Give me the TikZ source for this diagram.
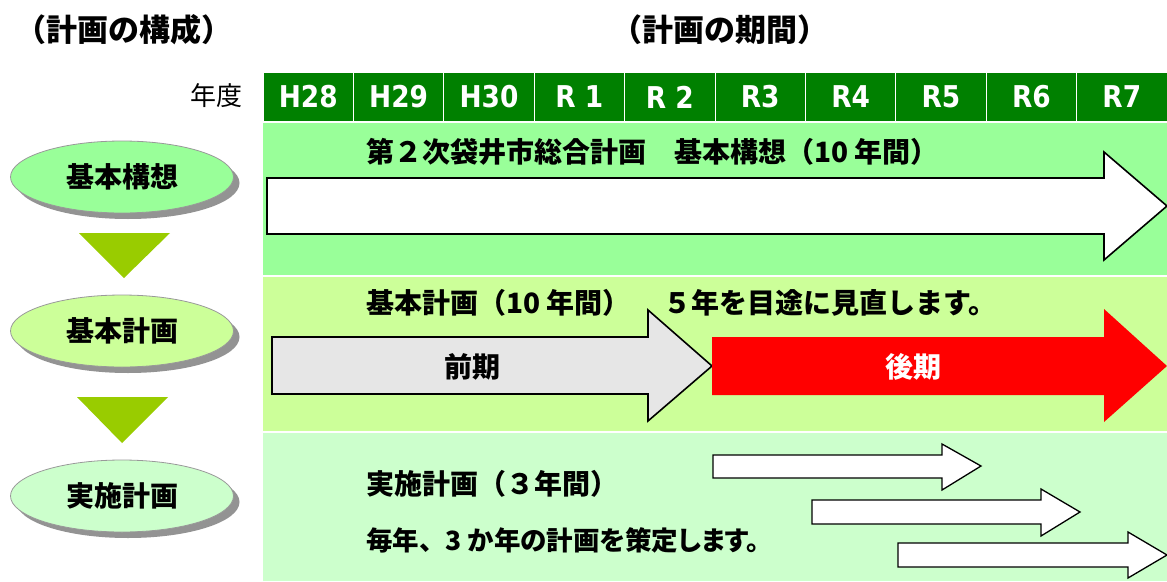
\documentclass[tikz,border=0pt]{standalone}
\usepackage{fontspec}
\newfontfamily\jp{Noto Sans CJK JP}
\newfontfamily\jpp{Noto Sans CJK JP}[RawFeature=+palt]
\newfontfamily\hdr{DejaVu Sans}[FakeStretch=0.88]
\usetikzlibrary{shapes.geometric,shadows}
\definecolor{hdrgreen}{HTML}{008000}
\definecolor{bandA}{HTML}{99FF99}
\definecolor{bandB}{HTML}{CCFF99}
\definecolor{bandC}{HTML}{CCFFCC}
\definecolor{trigreen}{HTML}{99CC00}
\definecolor{lgray}{HTML}{E6E6E6}
\tikzset{
  yearcell/.style={fill=hdrgreen, draw=none, minimum width=89.4pt, minimum height=48pt, inner sep=0pt, text=white, font=\hdr\bfseries\fontsize{30}{32}\selectfont},
  planell/.style={ellipse, draw=gray!80, line width=0.8pt, minimum width=223pt, minimum height=72pt, inner sep=0pt,
     drop shadow={shadow xshift=6pt, shadow yshift=-6pt, fill=gray!85, opacity=1}, font=\jp\bfseries\fontsize{28}{30}\selectfont},
  bandtxt/.style={anchor=west, inner sep=0pt, font=\jp\bfseries\fontsize{28}{30}\selectfont},
  titletxt/.style={inner sep=0pt, font=\jp\bfseries\fontsize{31}{34}\selectfont},
  blockarrow/.style={draw=black, line width=1.6pt, line join=miter},
  arrlabel/.style={inner sep=0pt, font=\jp\bfseries\fontsize{28}{30}\selectfont},
}
\begin{document}
\begin{tikzpicture}[x=1pt,y=-1pt]
\useasboundingbox (0,0) rectangle (1167,581);
\fill[white] (0,0) rectangle (1167,581);
% titles
\node[titletxt] (t1) at (124,30) {（計画の構成）};
\node[titletxt] (t2) at (720,30) {（計画の期間）};
\node[inner sep=0pt, font=\jp\fontsize{26}{30}\selectfont] (nendo) at (216,96) {年度};
% header cells
\foreach \lab [count=\i from 0] in {H28,H29,H30,R 1,R 2,R3,R4,R5,R6,R7}{
  \node[yearcell] (y\i) at ({263+90.4*\i+45.2},97) {\lab};
}
% bands
\fill[bandA] (263,123) rectangle (1167,275);
\fill[bandB] (263,277) rectangle (1167,431);
\fill[bandC] (263,433) rectangle (1167,581);
% band 1
\node[bandtxt] (b1) at (366,152) {第２次袋井市総合計画　基本構想（10 年間）};
\draw[blockarrow, fill=white] (267,178) -- (1104,178) -- (1104,152) -- (1167,206) -- (1104,260) -- (1104,234) -- (267,234) -- cycle;
% band 2
\node[bandtxt] (b2) at (366,303) {基本計画（10 年間）};
\node[bandtxt] (b2b) at (663,303) {５年を目途に見直します。};
\draw[blockarrow, fill=lgray] (272,337) -- (648,337) -- (648,310) -- (712,366) -- (648,421) -- (648,394) -- (272,394) -- cycle;
\fill[red] (712,337) -- (1104,337) -- (1104,309) -- (1167,366) -- (1104,422) -- (1104,395) -- (712,395) -- cycle;
\node[arrlabel] (zenki) at (472,367) {前期};
\node[arrlabel, text=white] (kouki) at (913,367) {後期};
% band 3
\node[bandtxt] (b3) at (366,484) {実施計画（３年間）};
\node[bandtxt, font=\jpp\bfseries\fontsize{26.5}{30}\selectfont] (b3b) at (366,540) {毎年{\jp 、}3 か年の計画を策定します。};
\draw[blockarrow, line width=1.3pt, fill=white] (713,455) -- (942,455) -- (942,444) -- (981,466) -- (942,490) -- (942,478) -- (713,478) -- cycle;
\draw[blockarrow, line width=1.3pt, fill=white] (812,500) -- (1041,500) -- (1041,489) -- (1080,512) -- (1041,536) -- (1041,524) -- (812,524) -- cycle;
\draw[blockarrow, line width=1.3pt, fill=white] (898,543) -- (1128,543) -- (1128,532) -- (1167,555) -- (1128,578) -- (1128,567) -- (898,567) -- cycle;
% left column
\node[planell, fill=bandA] (e1) at (122,177) {基本構想};
\node[planell, fill=bandB] (e2) at (122,331) {基本計画};
\node[planell, fill=bandC] (e3) at (122,496) {実施計画};
\fill[trigreen] (79,233) -- (170,233) -- (124,278) -- cycle;
\fill[trigreen] (77,397) -- (168,397) -- (122,443) -- cycle;
\end{tikzpicture}
\end{document}
